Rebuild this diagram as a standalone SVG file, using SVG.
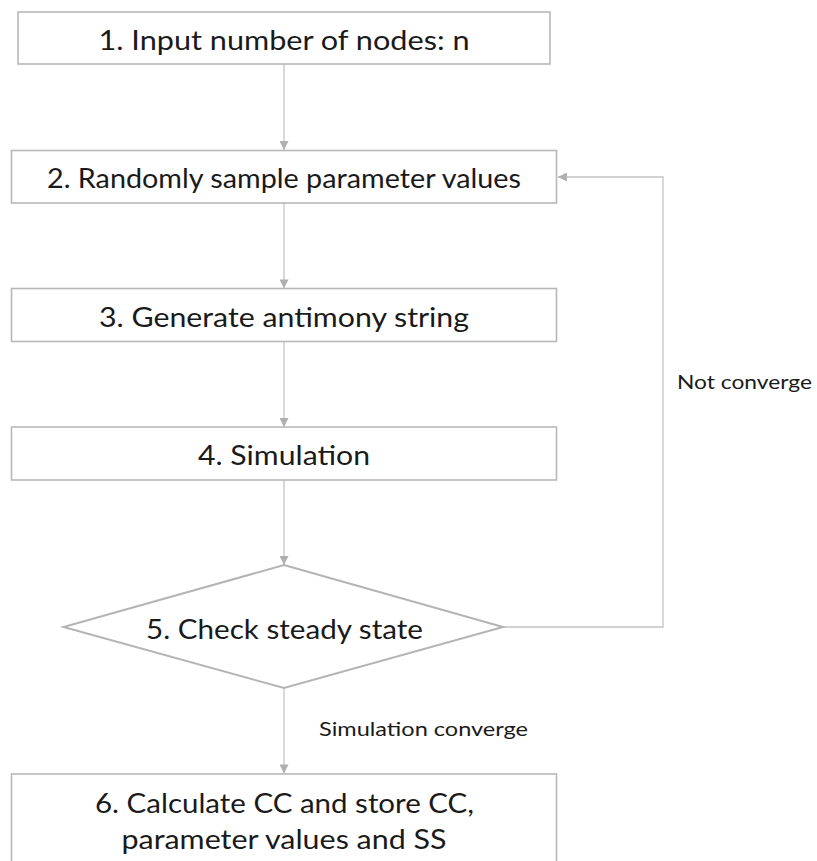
<svg xmlns="http://www.w3.org/2000/svg" width="817" height="861" viewBox="0 0 817 861">
  <defs>
    <marker id="arrow" viewBox="0 0 10 10" refX="10" refY="5" markerWidth="10" markerHeight="9" markerUnits="userSpaceOnUse" orient="auto">
      <path d="M0,0 L10,5 L0,10 Z" fill="#AFAFAF"/>
    </marker>
    <style>
      .box { fill: #FFFFFF; stroke: #B8B8B8; stroke-width: 1.6; }
      .dia { fill: #FFFFFF; stroke: #B4B4B4; stroke-width: 2; }
      .conn { fill: none; stroke: #C4C4C4; stroke-width: 1.3; }
      .t { font-family: Lato, "Open Sans", "Liberation Sans", sans-serif; font-size: 26px; fill: #1A1A1A; text-anchor: middle; }
      .lbl { font-family: Lato, "Open Sans", "Liberation Sans", sans-serif; font-size: 20px; fill: #1A1A1A; }
    </style>
  </defs>
  <rect width="817" height="861" fill="#FFFFFF"/>

  <g id="connectors">
    <line class="conn" x1="284" y1="64" x2="284" y2="150" marker-end="url(#arrow)"/>
    <line class="conn" x1="284" y1="203" x2="284" y2="288.5" marker-end="url(#arrow)"/>
    <line class="conn" x1="284" y1="342" x2="284" y2="427" marker-end="url(#arrow)"/>
    <line class="conn" x1="284" y1="480" x2="284" y2="565" marker-end="url(#arrow)"/>
    <line class="conn" x1="284" y1="688" x2="284" y2="773.5" marker-end="url(#arrow)"/>
    <polyline class="conn" points="503,627 663,627 663,177 558,177" marker-end="url(#arrow)"/>
    <text class="lbl" x="677" y="389" textLength="135" lengthAdjust="spacingAndGlyphs">Not converge</text>
    <text class="lbl" x="319" y="736" textLength="209" lengthAdjust="spacingAndGlyphs">Simulation converge</text>
  </g>

  <g id="node1">
    <rect class="box" x="18" y="12" width="532" height="52"/>
    <text class="t" x="284" y="50" textLength="371" lengthAdjust="spacingAndGlyphs">1. Input number of nodes: n</text>
  </g>
  <g id="node2">
    <rect class="box" x="11.5" y="150.5" width="545" height="52.5"/>
    <text class="t" x="284" y="188" textLength="474" lengthAdjust="spacingAndGlyphs">2. Randomly sample parameter values</text>
  </g>
  <g id="node3">
    <rect class="box" x="11.5" y="288.5" width="545" height="53"/>
    <text class="t" x="284" y="327" textLength="370" lengthAdjust="spacingAndGlyphs">3. Generate antimony string</text>
  </g>
  <g id="node4">
    <rect class="box" x="11.5" y="427" width="545" height="53"/>
    <text class="t" x="284" y="465" textLength="172" lengthAdjust="spacingAndGlyphs">4. Simulation</text>
  </g>
  <g id="node5">
    <polygon class="dia" points="284,565 503,627 284,688 63.5,627"/>
    <text class="t" x="284.5" y="639" textLength="277" lengthAdjust="spacingAndGlyphs">5. Check steady state</text>
  </g>
  <g id="node6">
    <rect class="box" x="11.5" y="774" width="545" height="100"/>
    <text class="t" x="284.5" y="813" textLength="379" lengthAdjust="spacingAndGlyphs">6. Calculate CC and store CC,</text>
    <text class="t" x="284" y="849" textLength="325" lengthAdjust="spacingAndGlyphs">parameter values and SS</text>
  </g>
</svg>
